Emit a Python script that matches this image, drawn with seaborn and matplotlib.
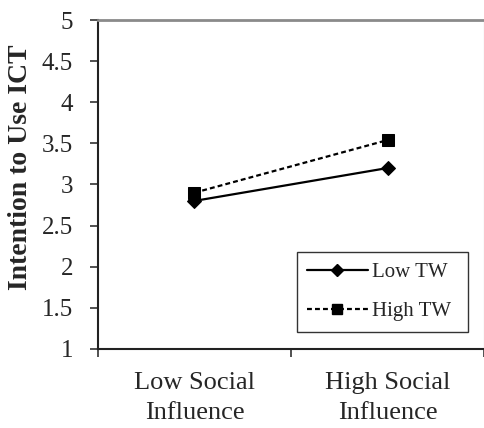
import matplotlib
matplotlib.use("Agg")
import matplotlib.pyplot as plt
import seaborn as sns
import pandas as pd
from matplotlib.ticker import FixedLocator
from matplotlib.lines import Line2D

categories = ["Low Social\nInfluence", "High Social\nInfluence"]
low_tw = [2.80, 3.20]
high_tw = [2.90, 3.54]
series_names = ["Low TW", "High TW"]
y_ticks = [1, 1.5, 2, 2.5, 3, 3.5, 4, 4.5, 5]
y_tick_labels = ["1", "1.5", "2", "2.5", "3", "3.5", "4", "4.5", "5"]

df = pd.DataFrame({
    "x": [0, 1, 0, 1],
    "y": low_tw + high_tw,
    "series": [series_names[0]] * 2 + [series_names[1]] * 2,
})

sns.set_style("white")
plt.rcParams["font.family"] = ["Liberation Serif", "DejaVu Serif"]

fig = plt.figure(figsize=(4.85, 4.28), dpi=100)
ax = fig.add_axes([0.202, 0.185, 0.796, 0.768])

sns.lineplot(
    data=df, x="x", y="y", hue="series", style="series",
    palette={"Low TW": "black", "High TW": "black"},
    markers={"Low TW": "D", "High TW": "s"},
    dashes={"Low TW": "", "High TW": (2.2, 1.4)},
    linewidth=1.6, markersize=8, markeredgecolor="black",
    ax=ax, legend=False,
)

for ln in ax.get_lines():
    if ln.get_marker() == "D":
        ln.set_markersize(7)

ax.set_xlim(-0.5, 1.5)
ax.set_ylim(1, 5)
ax.set_yticks(y_ticks)
ax.set_yticklabels(y_tick_labels, fontsize=18)
ax.xaxis.set_major_locator(FixedLocator([-0.5, 0.5, 1.5]))
ax.set_xticklabels(["", "", ""])
ax.set_xticks([0, 1], minor=True)
ax.set_xticklabels(categories, minor=True, fontsize=19, linespacing=1.45)
ax.tick_params(axis="x", which="minor", length=0, pad=17)
ax.tick_params(axis="x", which="major", length=6, width=1.2, color="#333333", direction="out", bottom=True)
ax.tick_params(axis="y", which="major", length=6, width=1.2, color="#333333", direction="out", pad=12, left=True)

ax.set_xlabel("")
ax.set_ylabel("Intention to Use ICT", fontsize=20, fontweight="bold")
ax.yaxis.set_label_coords(-0.168, 0.553)

for s in ["left", "bottom"]:
    ax.spines[s].set_color("#222222")
    ax.spines[s].set_linewidth(1.5)
ax.spines["top"].set_color("#8a8a8a")
ax.spines["top"].set_linewidth(2.0)
ax.spines["right"].set_color("#e6e6e6")
ax.spines["right"].set_linewidth(1.0)

handles = [
    Line2D([], [], color="black", linewidth=1.6, marker="D", markersize=6.5),
    Line2D([], [], color="black", linewidth=1.6, linestyle=(0, (2.2, 1.4)), marker="s", markersize=7),
]
leg = ax.legend(
    handles, series_names, loc="upper left",
    bbox_to_anchor=(0.515, 0.064, 0.444, 0.231), mode="expand",
    fontsize=15, frameon=True, fancybox=False, framealpha=1,
    handlelength=2.9, handletextpad=0.2, borderaxespad=0, borderpad=0.5,
    labelspacing=0.95,
)
leg.get_frame().set_edgecolor("#333333")
leg.get_frame().set_linewidth(1.0)

fig.savefig("out.png", dpi=100)
